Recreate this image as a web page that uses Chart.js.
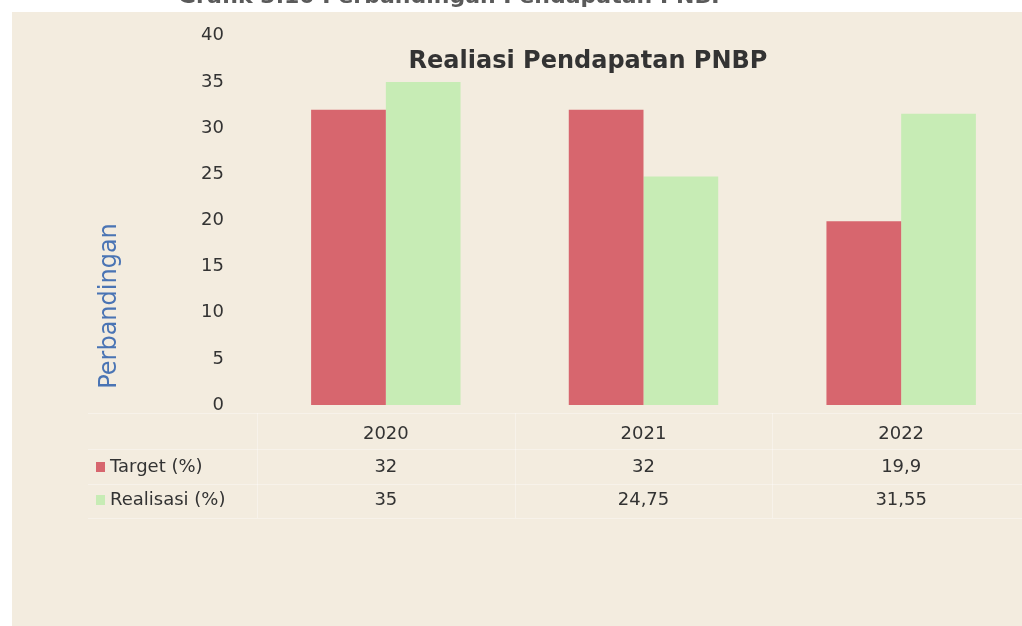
<!DOCTYPE html>
<html lang="id">
<head>
    <meta charset="UTF-8">
    <title>Realiasi Pendapatan PNBP</title>
    <script src="https://cdn.jsdelivr.net/npm/chart.js"></script>
    <style>
        body { margin: 0; overflow: hidden; background: #ffffff; }
        #wrap { width: 1040px; height: 626px; }
    </style>
</head>
<body>
    <div id="wrap"><canvas id="pnbpChart" width="1040" height="626"></canvas></div>

    <script>
        // data
        var years = ['2020', '2021', '2022'];
        var targetValues = [32, 32, 19.9];
        var realisasiValues = [35, 24.75, 31.55];
        var seriesNames = ['Target (%)', 'Realisasi (%)'];
        var yTicks = [0, 5, 10, 15, 20, 25, 30, 35, 40];

        var redColor = '#d7666e';
        var greenColor = '#c7ecb5';
        var textColor = '#333333';
        var font = 'DejaVu Sans';

        // comma as decimal separator, like the source
        function fmt(v) {
            return String(v).replace('.', ',');
        }

        // beige panel, cut-off page title, chart title and y title
        var backdrop = {
            id: 'backdrop',
            beforeDraw: function (chart) {
                var ctx = chart.ctx;
                ctx.save();
                ctx.fillStyle = '#ffffff';
                ctx.fillRect(0, 0, chart.width, chart.height);
                ctx.fillStyle = '#f3ecdf';
                ctx.fillRect(12, 12, chart.width - 12, chart.height - 12);

                // page caption, only its lower part shows
                ctx.fillStyle = '#5a5a5a';
                ctx.font = 'bold 22px "' + font + '"';
                ctx.textAlign = 'left';
                ctx.textBaseline = 'alphabetic';
                ctx.fillText('Grafik 3.10 Perbandingan Pendapatan PNBP', 178, 3);
                ctx.restore();
            },
            afterDatasetsDraw: function (chart) {
                var ctx = chart.ctx;
                ctx.save();
                ctx.fillStyle = textColor;
                ctx.font = 'bold 24px "' + font + '"';
                ctx.textAlign = 'center';
                ctx.textBaseline = 'middle';
                ctx.fillText('Realiasi Pendapatan PNBP', 588, 62);

                ctx.translate(110, 306);
                ctx.rotate(-Math.PI / 2);
                ctx.fillStyle = '#4a74b4';
                ctx.font = '24px "' + font + '"';
                ctx.fillText('Perbandingan', 0, 0);
                ctx.restore();
            }
        };

        // data table under the x axis
        var dataTable = {
            id: 'dataTable',
            afterDraw: function (chart) {
                var ctx = chart.ctx;
                var x = chart.scales.x;
                var rowsY = [467, 500];
                var colors = [redColor, greenColor];
                var rows = [targetValues, realisasiValues];

                ctx.save();
                // faint cell lines
                ctx.strokeStyle = 'rgba(255,255,255,0.35)';
                ctx.lineWidth = 1;
                [413, 449, 484, 518].forEach(function (y) {
                    ctx.beginPath();
                    ctx.moveTo(88, y + 0.5);
                    ctx.lineTo(chart.width, y + 0.5);
                    ctx.stroke();
                });
                for (var i = 0; i <= years.length; i++) {
                    var gx = Math.round(x.left + i * (x.width / years.length)) + 0.5;
                    ctx.beginPath();
                    ctx.moveTo(gx, 413);
                    ctx.lineTo(gx, 518);
                    ctx.stroke();
                }

                ctx.font = '18px "' + font + '"';
                ctx.textBaseline = 'middle';
                rows.forEach(function (vals, r) {
                    ctx.fillStyle = colors[r];
                    ctx.fillRect(96, rowsY[r] - 5, 9, 10);
                    ctx.fillStyle = textColor;
                    ctx.textAlign = 'left';
                    ctx.fillText(seriesNames[r], 110, rowsY[r]);
                    ctx.textAlign = 'center';
                    vals.forEach(function (v, i) {
                        ctx.fillText(fmt(v), x.getPixelForValue(i), rowsY[r]);
                    });
                });
                ctx.restore();
            }
        };

        var ctx = document.getElementById('pnbpChart').getContext('2d');
        var pnbpChart = new Chart(ctx, {
            type: 'bar',
            data: {
                labels: years,
                datasets: [
                    { label: seriesNames[0], data: targetValues, backgroundColor: redColor },
                    { label: seriesNames[1], data: realisasiValues, backgroundColor: greenColor }
                ]
            },
            options: {
                responsive: false,
                animation: false,
                layout: { padding: { top: 29, right: 10, bottom: 181, left: 0 } },
                datasets: {
                    bar: { categoryPercentage: 0.58, barPercentage: 1.0 }
                },
                scales: {
                    x: {
                        grid: { display: false },
                        border: { display: false },
                        ticks: { color: textColor, font: { family: font, size: 18 }, padding: 11 },
                        afterFit: function (scale) { scale.height = 40; }
                    },
                    y: {
                        min: 0,
                        max: 40,
                        grid: { display: false },
                        border: { display: false },
                        afterBuildTicks: function (scale) {
                            scale.ticks = yTicks.map(function (v) { return { value: v }; });
                        },
                        ticks: { color: textColor, font: { family: font, size: 18 }, padding: 25 },
                        afterFit: function (scale) { scale.width = 257; }
                    }
                },
                plugins: {
                    legend: { display: false },
                    tooltip: { enabled: false }
                }
            },
            plugins: [backdrop, dataTable]
        });
    </script>
</body>
</html>
